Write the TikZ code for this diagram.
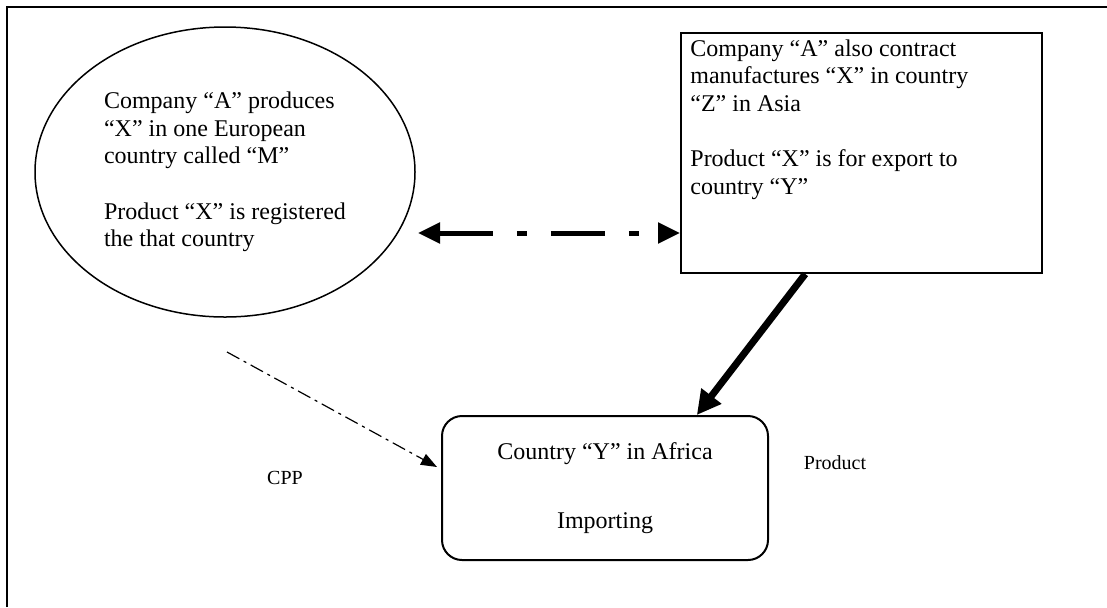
\documentclass[tikz,border=0pt]{standalone}
\usepackage{fontspec}
\setmainfont{Liberation Serif}
\usetikzlibrary{shapes.geometric,arrows.meta,calc}

\begin{document}
\begin{tikzpicture}
		[x=0.5pt, y=-0.5pt,
		every node/.style={inner sep=0pt, font=\fontsize{12}{13.8}\selectfont},
		small/.style={font=\fontsize{10}{12}\selectfont},
		dblarrow/.style={line width=2.5pt, dash pattern=on 27pt off 12pt on 5pt off 12pt,
			{Triangle[length=11pt,width=10pt]}-{Triangle[length=11pt,width=10pt]}},
		cpparrow/.style={line width=0.6pt, dash pattern=on 7pt off 2.5pt on 1.5pt off 2.5pt,
			-{Triangle[length=8pt,width=6pt]}},
		prodarrow/.style={line width=3.5pt, -{Triangle[length=12pt,width=12pt]}}]
		\useasboundingbox (0,0) rectangle (1107,607);
		\draw[line width=1pt] (7,607) -- (7,7) -- (1107,7);
		
		\node[ellipse, draw, line width=0.75pt, minimum width=190pt, minimum height=145pt,
			align=left] (maker) at (225,172)
			{Company “A” produces\\“X” in one European\\country called “M”\\[13.8pt]Product “X” is registered\\the that country};
		
		\node[draw, line width=1pt, minimum width=180.5pt, minimum height=120pt, anchor=north west] (asia) at (680,32) {};
		\node[anchor=north west, align=left] (asiatext) at ($(asia.north west)+(10,7)$)
			{Company “A” also contract\\manufactures “X” in country\\“Z” in Asia\\[13.8pt]Product “X” is for export to\\country “Y”};
		
		\node[draw, rounded corners=10pt, line width=1pt, minimum width=163pt, minimum height=72pt,
			align=center] (africa) at (605,488) {Country “Y” in Africa\\[20.7pt]Importing};
		
		\coordinate (lefttip) at (418,233);
		\coordinate (cppstart) at (227,352);
		\node[small] (cpp) at (285,478) {CPP};
		\node[small] (product) at (835,463) {Product};
		
		\draw[dblarrow] (lefttip) -- (asia.west |- lefttip);
		\draw[cpparrow] (cppstart) -- ($(africa.west)+(-4,-21)$);
		\draw[prodarrow] ($(asia.south west)!0.345!(asia.south east)$) -- ($(africa.north west)!0.78!(africa.north east)$);
		\end{tikzpicture}
\end{document}
